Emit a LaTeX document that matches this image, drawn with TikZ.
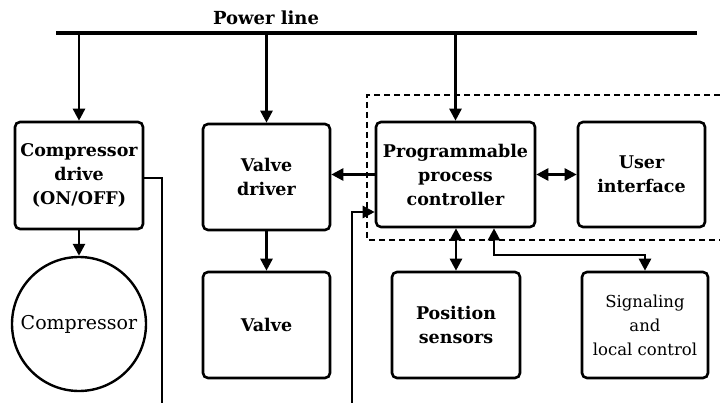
\documentclass[tikz,border=0pt]{standalone}
\usepackage{fontspec}
\setmainfont{DejaVu Serif}
\usetikzlibrary{arrows.meta}
\tikzset{
  blk/.style={draw, line width=2.6pt, rounded corners=5pt, align=center, inner sep=2pt,
    font=\fontsize{17.5}{24}\selectfont\bfseries},
  tip/.tip={Triangle[length=12pt,width=12pt]},
  arr/.style={line width=2.6pt, -tip},
  darr/.style={line width=2.6pt, tip-tip},
  ln/.style={line width=2.4pt},
}
\begin{document}
\begin{tikzpicture}[x=1pt,y=-1pt]
\useasboundingbox (0,0) rectangle (720,403);
% power line
\coordinate (pl1) at (56,33);
\coordinate (pl2) at (697,33);
\draw[line width=3.2pt] (pl1) -- (pl2);
\node[font=\fontsize{18}{20}\selectfont\bfseries] (plt) at (266,18) {Power line};
% dashed region
\draw[line width=1.5pt, dash pattern=on 6pt off 4pt] (720,95) -- (367,95) -- (367,240) -- (720,240);
% blocks
\node[blk, minimum width=128pt, minimum height=107pt] (cd) at (79,175.5) {Compressor\\drive\\(ON/OFF)};
\node[blk, minimum width=127pt, minimum height=106pt] (vd) at (266.5,177) {Valve\\driver};
\node[blk, minimum width=127pt, minimum height=106pt] (v) at (266.5,325) {Valve};
\node[draw, circle, line width=2.4pt, minimum size=134pt, inner sep=0pt, font=\fontsize{19}{22}\selectfont] (comp) at (79,324) {Compressor};
\node[blk, minimum width=159pt, minimum height=105pt] (pc) at (455.5,174.5) {Programmable\\process\\controller};
\node[blk, minimum width=127pt, minimum height=105pt] (ui) at (641.5,174.5) {User\\interface};
\node[blk, minimum width=128pt, minimum height=106pt] (ps) at (456,325) {Position\\sensors};
\node[blk, minimum width=126pt, minimum height=106pt, font=\fontsize{16.5}{24}\selectfont] (sig) at (645,325) {Signaling\\and\\local control};
% power feeds
\draw[arr] (pl1 -| cd.north) -- (cd.north);
\draw[arr] (pl1 -| vd.north) -- (vd.north);
\draw[arr] (pl1 -| pc.north) -- (pc.north);
% internal connections
\draw[arr] (cd.south) -- (comp.north);
\draw[arr] (vd.south) -- (v.north);
\draw[arr] (pc.west) -- (pc.west -| vd.east);
\draw[darr] (pc.east) -- (ui.west);
\draw[darr] (pc.south -| ps.north) -- (ps.north);
\coordinate (s1) at (494,255);
\draw[darr] (pc.south -| s1) -- (s1) -- (s1 -| sig.north) -- (sig.north);
% external lines
\coordinate (c1) at (162,178);
\coordinate (c2) at (162,403);
\draw[ln] (cd.east |- c1) -- (c1) -- (c2);
\coordinate (e1) at (352,403);
\coordinate (e2) at (352,212);
\draw[ln, -tip] (e1) -- (e2) -- (e2 -| pc.west);
\end{tikzpicture}
\end{document}
